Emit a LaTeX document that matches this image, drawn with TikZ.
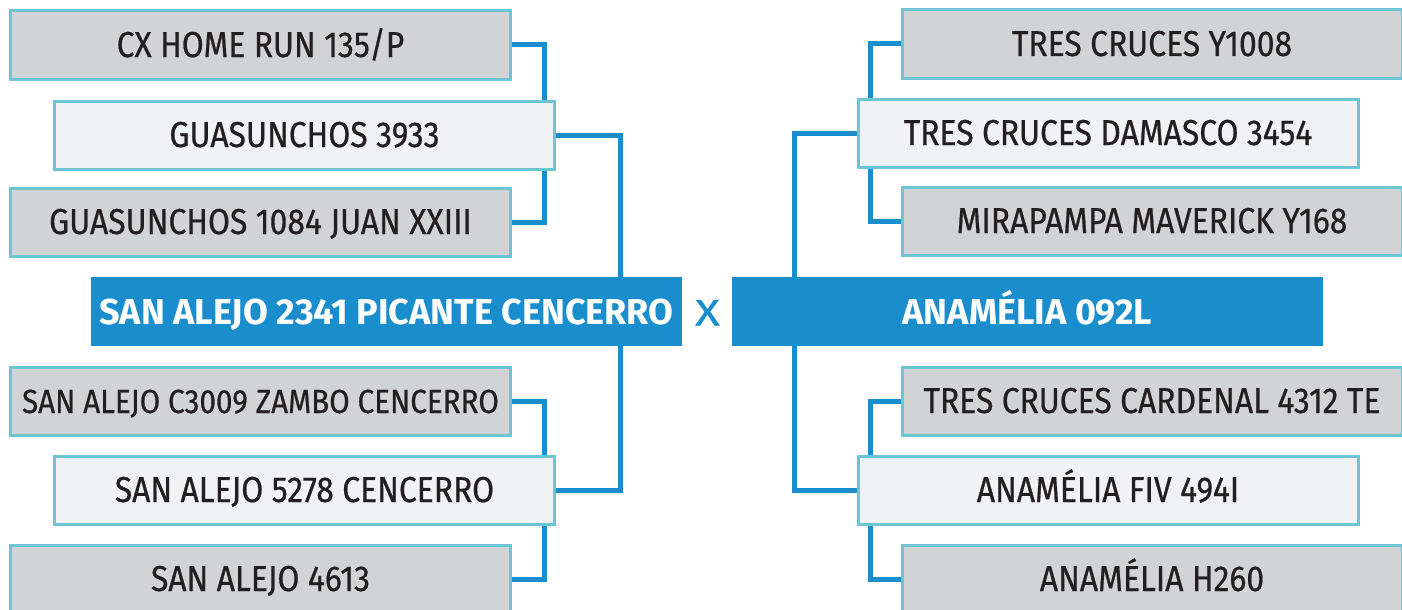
\documentclass[tikz,border=0pt]{standalone}
\usepackage{fontspec}
\setmainfont{Fira Sans}[FakeStretch=0.885, FakeBold=0.6]
\newfontfamily\bullfont{Fira Sans}[FakeStretch=1.0]
\usepackage{tikz}
\usetikzlibrary{positioning,calc}
\definecolor{boxgray}{HTML}{D1D3D4}
\definecolor{boxlight}{HTML}{F1F2F4}
\definecolor{boxedge}{HTML}{6CC5D3}
\definecolor{linkblue}{HTML}{1A8DCD}
\definecolor{labeldark}{HTML}{231F20}
\newcommand{\lblfont}{\fontsize{36}{40}\selectfont}

\begin{document}
\begin{tikzpicture}[x=1pt, y=-1pt,
  sire/.style={draw=boxedge, line width=3pt, fill=boxgray, minimum width=500pt, minimum height=68pt, inner sep=0pt, text height=24pt, text depth=0pt, text=labeldark, font=\lblfont},
  dam/.style={sire, fill=boxlight},
  bull/.style={fill=linkblue, minimum width=591pt, minimum height=69pt, inner sep=0pt, text height=25pt, text depth=0pt, text=white, font=\bullfont\bfseries\fontsize{36}{40}\selectfont},
  link/.style={draw=linkblue, line width=5pt}]
  \useasboundingbox (0,0) rectangle (1402,610);
  \clip (0,0) rectangle (1402,610);
  % left side
  \node[sire] (l1) at (260.5,45) {CX HOME RUN 135/P};
  \node[dam] (l2) at (304.5,135) {GUASUNCHOS 3933};
  \node[sire] (l3) at (260.5,222) {GUASUNCHOS 1084 JUAN XXIII};
  \node[bull] (lm) at (386.5,311.5) {SAN ALEJO 2341 PICANTE CENCERRO};
  \node[sire, font=\fontsize{33.5}{36}\selectfont] (l4) at (260.5,401) {SAN ALEJO C3009 ZAMBO CENCERRO};
  \node[dam] (l5) at (304.5,490) {SAN ALEJO 5278 CENCERRO};
  \node[sire] (l6) at (260.5,579) {SAN ALEJO 4613};
  % right side
  \node[sire] (r1) at (1152,44) {TRES CRUCES Y1008};
  \node[dam] (r2) at (1108,133) {TRES CRUCES DAMASCO 3454};
  \node[sire] (r3) at (1152,221) {MIRAPAMPA MAVERICK Y168};
  \node[bull] (rm) at (1027.5,311.5) {ANAMÉLIA 092L};
  \node[sire] (r4) at (1152,401) {TRES CRUCES CARDENAL 4312 TE};
  \node[dam] (r5) at (1108,490) {ANAMÉLIA FIV 494I};
  \node[sire] (r6) at (1152,579) {ANAMÉLIA H260};
  \node[text=linkblue, inner sep=0pt, text height=25pt, text depth=0pt, font=\fontsize{37}{40}\selectfont] (vs) at (707.5,313) {\scalebox{1.4}[1]{X}};
  \coordinate (lj) at (544,0);
  \coordinate (lk) at (620,0);
  \coordinate (rj) at (870.5,0);
  \coordinate (rk) at (794,0);
  \draw[link] (l1.east) -| (l2.north -| lj);
  \draw[link] (l3.east) -| (l2.south -| lj);
  \draw[link] (l2.east) -| (lm.north -| lk);
  \draw[link] (l4.east) -| (l5.north -| lj);
  \draw[link] (l6.east) -| (l5.south -| lj);
  \draw[link] (lm.south -| lk) |- (l5.east);
  \draw[link] (r1.west) -| (r2.north -| rj);
  \draw[link] (r3.west) -| (r2.south -| rj);
  \draw[link] (r2.west) -| (rm.north -| rk);
  \draw[link] (r4.west) -| (r5.north -| rj);
  \draw[link] (r6.west) -| (r5.south -| rj);
  \draw[link] (rm.south -| rk) |- (r5.west);
\end{tikzpicture}
\end{document}
